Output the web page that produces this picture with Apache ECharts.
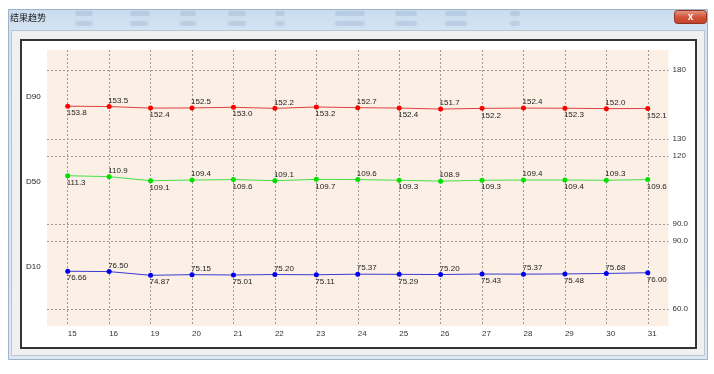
<!DOCTYPE html>
<html><head><meta charset="utf-8">
<script src="https://cdn.jsdelivr.net/npm/echarts@6/dist/echarts.min.js"></script>
<style>html,body{margin:0;padding:0;background:#fff}#c{width:714px;height:374px}</style>
</head><body><div id="c"></div>
<script>
// ---- data ----
const windowTitle = '结果趋势';
const categories = ['15','16','19','20','21','22','23','24','25','26','27','28','29','30','31'];
const seriesNames = ['D90','D50','D10'];
const d90 = [153.8,153.5,152.4,152.5,153.0,152.2,153.2,152.7,152.4,151.7,152.2,152.4,152.3,152.0,152.1];
const d50 = [111.3,110.9,109.1,109.4,109.6,109.1,109.7,109.6,109.3,108.9,109.3,109.4,109.4,109.3,109.6];
const d10 = [76.66,76.50,74.87,75.15,75.01,75.20,75.11,75.37,75.29,75.20,75.43,75.37,75.48,75.68,76.00];
const d90TickValues = [130, 180];
const d90TickLabels = ['130', '180'];
const d50TickValues = [90, 120];
const d50TickLabels = ['90.0', '120'];
const d10TickValues = [60, 90];
const d10TickLabels = ['60.0', '90.0'];

// ---- chart ----
const FONT = 'Liberation Sans';
const chart = echarts.init(document.getElementById('c'), null, {renderer: 'canvas'});

const panels = [
  {name: seriesNames[0], vals: d90, ticks: d90TickValues, labs: d90TickLabels, dec: 1, color: '#ff0000', line: '#e04040', top: 70, height: 69},
  {name: seriesNames[1], vals: d50, ticks: d50TickValues, labs: d50TickLabels, dec: 1, color: '#00e000', line: '#44e044', top: 156, height: 68},
  {name: seriesNames[2], vals: d10, ticks: d10TickValues, labs: d10TickLabels, dec: 2, color: '#0000ee', line: '#3a3ad0', top: 241, height: 68}
];

const BG_L = 47, BG_R = 45.5, BG_T = 50, BG_B = 48;
const band = (714 - BG_L - BG_R) / categories.length / 2;

const grids = [
  {left: BG_L, right: BG_R, top: BG_T, bottom: BG_B, show: true, backgroundColor: '#fcf0e6', borderWidth: 0},
  {left: BG_L + band, right: BG_R + band, top: BG_T, bottom: BG_B, show: false}
];
const xAxes = [
  {type: 'category', gridIndex: 0, data: categories, show: false},
  {type: 'category', gridIndex: 1, data: categories, boundaryGap: false, position: 'bottom',
    axisLine: {show: false}, axisTick: {show: false},
    axisLabel: {interval: 0, align: 'left', margin: 4, fontSize: 8, color: '#333', fontFamily: FONT},
    splitLine: {show: true, interval: 0, lineStyle: {color: '#9a9a9a', type: [2, 2], width: 1}}}
];
const yAxes = [
  {type: 'value', gridIndex: 0, show: false},
  {type: 'value', gridIndex: 1, show: false}
];
const series = [];
const titles = [];

panels.forEach((p, k) => {
  const gi = k + 2;
  grids.push({left: BG_L, right: BG_R, top: p.top, height: p.height, show: false});
  xAxes.push({type: 'category', gridIndex: gi, data: categories, boundaryGap: true, show: false});
  yAxes.push({
    type: 'value', gridIndex: gi, position: 'right', min: p.ticks[0], max: p.ticks[1],
    axisLine: {show: false},
    axisTick: {show: false, customValues: p.ticks},
    splitLine: {show: true, lineStyle: {color: '#9a9a9a', type: [2, 2], width: 1}},
    axisLabel: {customValues: p.ticks, margin: 4, fontSize: 8, color: '#333', fontFamily: FONT,
      formatter: v => { const i = p.ticks.indexOf(v); return i >= 0 ? p.labs[i] : ''; }}
  });
  series.push({
    type: 'line', name: p.name, xAxisIndex: gi, yAxisIndex: gi,
    data: p.vals.map((v, i) => ({value: v, label: {offset: i % 2 === 0 ? [-1, 7] : [-1, -6]}})),
    symbol: 'circle', symbolSize: 5, showAllSymbol: true,
    itemStyle: {color: p.color},
    lineStyle: {color: p.line, width: 1},
    label: {show: true, position: 'inside', align: 'left', verticalAlign: 'middle',
      fontSize: 8, color: '#222', fontFamily: FONT,
      formatter: q => Number(q.value).toFixed(p.dec)},
    animation: false, silent: true
  });
  titles.push({text: p.name, left: 26, top: p.top + p.height / 2 - 12, padding: 0,
    textStyle: {fontSize: 8, fontWeight: 'normal', color: '#222', fontFamily: FONT}});
});

titles.push({text: windowTitle, left: 10, top: 13, padding: 0,
  textStyle: {fontSize: 9, fontWeight: 'normal', color: '#1a1a1a', fontFamily: 'Noto Sans CJK SC'}});

const blobs = [];
[[75,11,18],[130,11,20],[180,11,16],[228,11,18],[275,11,10],[335,11,30],[395,11,22],[445,11,22],[510,11,10],
 [75,21,18],[130,21,18],[180,21,16],[228,21,18],[275,21,10],[335,21,30],[395,21,22],[445,21,22],[510,21,10]].forEach(b => {
  blobs.push({type: 'rect', z: -8, shape: {x: b[0], y: b[1], width: b[2], height: 5, r: 2.5},
    style: {fill: 'rgba(110,140,175,0.18)', shadowBlur: 4, shadowColor: 'rgba(110,140,175,0.35)'}});
});

const option = {
  animation: false,
  title: titles,
  grid: grids,
  xAxis: xAxes,
  yAxis: yAxes,
  series: series,
  graphic: [
    {type: 'rect', z: -10, shape: {x: 8.5, y: 9.5, width: 699, height: 350},
      style: {fill: new echarts.graphic.LinearGradient(0, 0, 0, 1, [{offset: 0, color: '#c9dcef'}, {offset: 0.06, color: '#d4e3f2'}, {offset: 1, color: '#dfe8f2'}]), stroke: '#9eb2c8', lineWidth: 1}},
    ...blobs,
    {type: 'rect', z: -7, shape: {x: 11.5, y: 30.5, width: 693, height: 325},
      style: {fill: '#f0f0f0', stroke: '#b8c4d2', lineWidth: 1}},
    {type: 'rect', z: -6, shape: {x: 21, y: 40, width: 675, height: 308},
      style: {fill: '#ffffff', stroke: '#333333', lineWidth: 2}},
    {type: 'rect', z: -5, shape: {x: 674.5, y: 10.5, width: 32, height: 13, r: 3},
      style: {fill: new echarts.graphic.LinearGradient(0, 0, 0, 1, [{offset: 0, color: '#e9a08e'}, {offset: 0.5, color: '#d2553a'}, {offset: 1, color: '#c2402a'}]), stroke: '#8c3322', lineWidth: 1}},
    {type: 'text', z: -4, style: {x: 690.5, y: 17, text: 'x', fill: '#ffffff', font: 'bold 10px ' + FONT, textAlign: 'center', textVerticalAlign: 'middle'}}
  ]
};
chart.setOption(option);
</script>
</body></html>
